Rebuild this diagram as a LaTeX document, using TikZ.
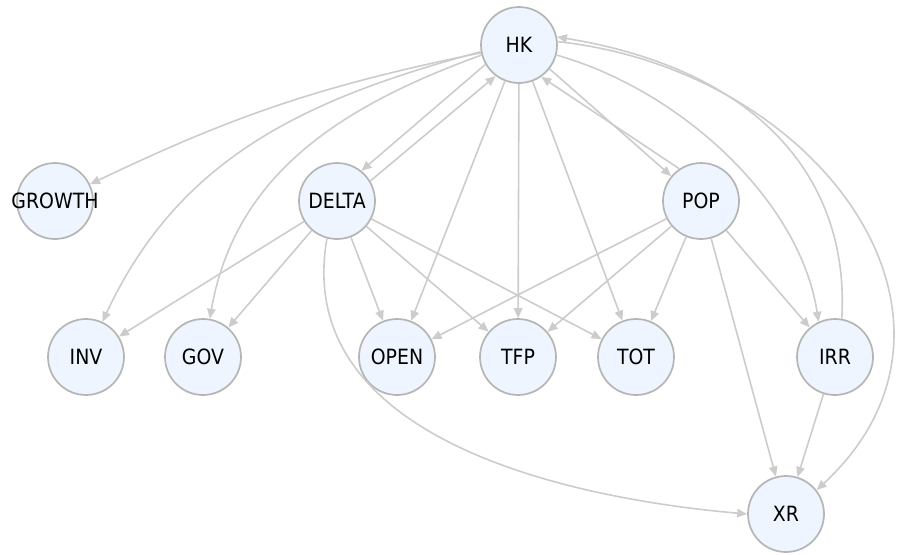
\documentclass[tikz,border=0pt]{standalone}
\usepackage{fontspec}
\setmainfont{DejaVu Sans}[FakeStretch=0.9]
\usetikzlibrary{arrows.meta}
\definecolor{nodefill}{HTML}{EEF5FE}
\definecolor{nodeline}{HTML}{B5B5B5}
\definecolor{edgecol}{HTML}{CCCCCC}
\begin{document}
\begin{tikzpicture}[x=1pt,y=-1pt,
  vnode/.style={circle,draw=nodeline,fill=nodefill,line width=1.7pt,minimum size=76pt,inner sep=0pt,
    font=\fontsize{21}{23}\selectfont},
  edge/.style={draw=edgecol,line width=1.6pt,-{Triangle[length=10pt,width=8.5pt]}}]
\useasboundingbox (0,0) rectangle (904,554);
\node[vnode] (HK) at (519,45) {\makebox[0pt]{HK}};
\node[vnode] (GROWTH) at (55,201) {\makebox[0pt]{GROWTH}};
\node[vnode] (DELTA) at (337,201) {\makebox[0pt]{DELTA}};
\node[vnode] (POP) at (701,201) {\makebox[0pt]{POP}};
\node[vnode] (INV) at (86,357) {\makebox[0pt]{INV}};
\node[vnode] (GOV) at (203,357) {\makebox[0pt]{GOV}};
\node[vnode] (OPEN) at (397,357) {\makebox[0pt]{OPEN}};
\node[vnode] (TFP) at (518,357) {\makebox[0pt]{TFP}};
\node[vnode] (TOT) at (636,357) {\makebox[0pt]{TOT}};
\node[vnode] (IRR) at (835,357) {\makebox[0pt]{IRR}};
\node[vnode] (XR) at (786,514) {\makebox[0pt]{XR}};
% HK outgoing
\draw[edge] (HK) to[bend right=7] (GROWTH);
\draw[edge] (HK.190) to[out=195,in=65] (INV);
\draw[edge] (HK.195) to[out=200,in=80] (GOV);
\draw[edge] (HK.210) -- (DELTA.51);
\draw[edge] (DELTA.31) -- (HK.233);
\draw[edge] (HK) -- (OPEN);
\draw[edge] (HK) -- (TFP);
\draw[edge] (HK) -- (TOT);
\draw[edge] (HK.322) -- (POP.140);
\draw[edge] (POP.124) -- (HK.305);
\draw[edge] (HK.345) .. controls (680,90) and (800,200) .. (IRR.115);
\draw[edge] (IRR.80) .. controls (850,180) and (760,70) .. (HK.12);
\draw[edge] (HK.5) .. controls (820,70) and (1000,320) .. (XR.38);
% DELTA outgoing
\draw[edge] (DELTA) -- (INV);
\draw[edge] (DELTA) -- (GOV);
\draw[edge] (DELTA) -- (OPEN);
\draw[edge] (DELTA) -- (TFP);
\draw[edge] (DELTA) -- (TOT);
\draw[edge] (DELTA.255) to[out=-100,in=175] (XR.180);
% POP outgoing
\draw[edge] (POP) -- (OPEN);
\draw[edge] (POP) -- (TFP);
\draw[edge] (POP) -- (TOT);
\draw[edge] (POP) -- (IRR);
\draw[edge] (POP) -- (XR);
% IRR
\draw[edge] (IRR) -- (XR);
\end{tikzpicture}
\end{document}
